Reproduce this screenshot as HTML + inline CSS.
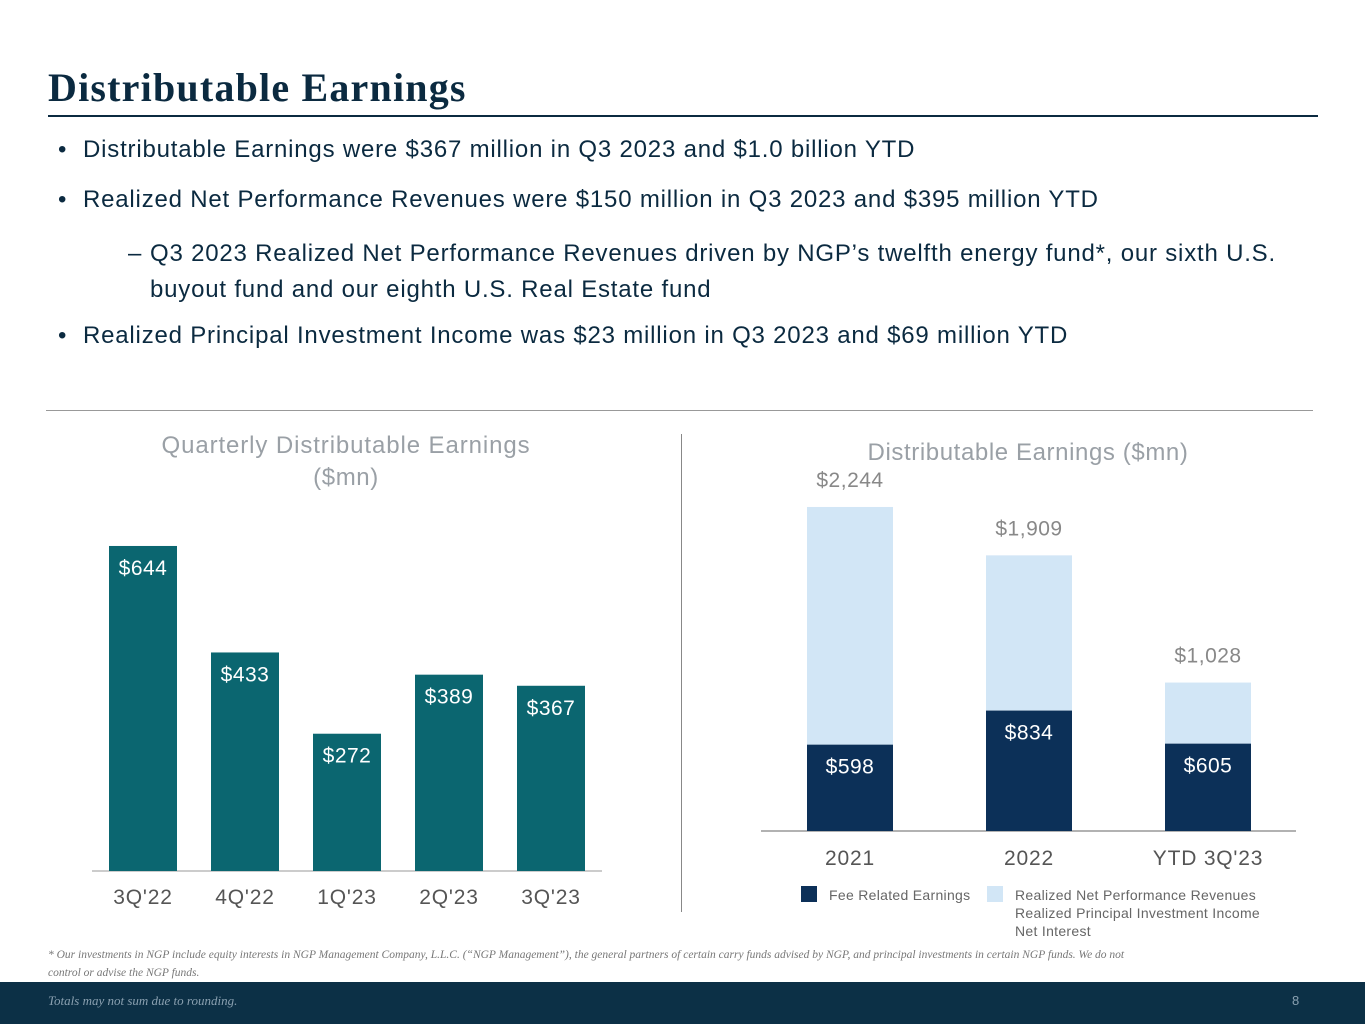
<!DOCTYPE html>
<html><head><meta charset="utf-8"><style>
body{margin:0;width:1365px;height:1024px;position:relative;background:#fff;font-family:"Liberation Sans",sans-serif;overflow:hidden}
.abs{position:absolute}
.title{left:48px;top:64px;font-family:"Liberation Serif",serif;font-weight:bold;font-size:40px;letter-spacing:1.2px;color:#0b2a40}
.bul{left:58px;font-size:24px;letter-spacing:0.8px;color:#0b2a40;white-space:nowrap}
.bul span{position:absolute;left:0}
.bul div{margin-left:25px}
</style></head><body>
<div class="abs title">Distributable Earnings</div>
<div class="abs" style="left:48px;top:115px;width:1270px;height:1.5px;background:#0b2a40"></div>
<div class="abs bul" style="top:136px"><span>•</span><div>Distributable Earnings were $367 million in Q3 2023 and $1.0 billion YTD</div></div>
<div class="abs bul" style="top:186px"><span>•</span><div>Realized Net Performance Revenues were $150 million in Q3 2023 and $395 million YTD</div></div>
<div class="abs bul" style="top:236px;left:128px;line-height:36px"><span>–</span><div style="margin-left:22px">Q3 2023 Realized Net Performance Revenues driven by NGP’s twelfth energy fund*, our sixth U.S.<br>buyout fund and our eighth U.S. Real Estate fund</div></div>
<div class="abs bul" style="top:322px"><span>•</span><div>Realized Principal Investment Income was $23 million in Q3 2023 and $69 million YTD</div></div>
<div class="abs" style="left:46px;top:410px;width:1267px;height:1px;background:#999"></div>
<div class="abs" style="left:681px;top:434px;width:1px;height:478px;background:#888"></div>

<svg class="abs" style="left:0;top:0" width="1365" height="1024" font-family="Liberation Sans, sans-serif">
<g id="left"></g><g id="right"></g>
</svg>

<div class="abs" style="top:946px;left:48px;width:1265px;font-family:'Liberation Serif',serif;font-style:italic;font-size:11.5px;color:#777;line-height:18px;white-space:nowrap">* Our investments in NGP include equity interests in NGP Management Company, L.L.C. (“NGP Management”), the general partners of certain carry funds advised by NGP, and principal investments in certain NGP funds. We do not<br>control or advise the NGP funds.</div>
<div class="abs" style="left:0;top:982px;width:1365px;height:42px;background:#0c3046">
<div class="abs" style="left:48px;top:11px;font-family:'Liberation Serif',serif;font-style:italic;font-size:13px;color:#8aa0b0">Totals may not sum due to rounding.</div>
<div class="abs" style="left:1292px;top:11px;font-size:13px;color:#8aa0b0">8</div>
</div>
<script>
const qCats=["3Q'22","4Q'22","1Q'23","2Q'23","3Q'23"];
const qVals=[644,433,272,389,367];
const aCats=["2021","2022","YTD 3Q'23"];
const aFre=[598,834,605];
const aTot=[2244,1909,1028];
const NS="http://www.w3.org/2000/svg";
function mk(p,t,a,txt){const e=document.createElementNS(NS,t);for(const k in a)e.setAttribute(k,a[k]);if(txt!==undefined)e.textContent=txt;p.appendChild(e);return e;}
const L=document.getElementById('left'),R=document.getElementById('right');
const ly=v=>871-v*0.5047, lx=i=>109+i*102;
let t=mk(L,'text',{x:346,y:453,'text-anchor':'middle','font-size':24,'letter-spacing':0.9,fill:'#9aa0a6'},"Quarterly Distributable Earnings");

t=mk(L,'text',{x:346,y:485,'text-anchor':'middle','font-size':24,'letter-spacing':0.6,fill:'#9aa0a6'},"($mn)");

let ln=mk(L,'line',{x1:92,x2:602,y1:871,y2:871,stroke:'#999','stroke-width':1});

qVals.forEach((v,i)=>{
 const r=mk(L,'rect',{x:lx(i),y:ly(v),width:68,height:871-ly(v),fill:'#0b6670'});
 
 const l=mk(L,'text',{x:lx(i)+34,y:ly(v)+29,'text-anchor':'middle','font-size':21,'letter-spacing':0.5,fill:'#fff'},'$'+v);
 
 const c=mk(L,'text',{x:lx(i)+34,y:904,'text-anchor':'middle','font-size':21,'letter-spacing':0.8,fill:'#555'},qCats[i]);
 
});
const ry=v=>831-v*0.1444, rx=i=>807+i*179;
t=mk(R,'text',{x:1028,y:460,'text-anchor':'middle','font-size':24,'letter-spacing':0.6,fill:'#9aa0a6'},"Distributable Earnings ($mn)");

ln=mk(R,'line',{x1:761,x2:1296,y1:831,y2:831,stroke:'#999','stroke-width':1.5});

aCats.forEach((c,i)=>{
 const r1=mk(R,'rect',{x:rx(i),y:ry(aTot[i]),width:86,height:ry(aFre[i])-ry(aTot[i]),fill:'#d2e6f6'});
 
 const r2=mk(R,'rect',{x:rx(i),y:ry(aFre[i]),width:86,height:831-ry(aFre[i]),fill:'#0c3058'});
 
 const l=mk(R,'text',{x:rx(i)+43,y:ry(aFre[i])+29,'text-anchor':'middle','font-size':21,'letter-spacing':0.5,fill:'#fff'},'$'+aFre[i]);
 
 const tt=mk(R,'text',{x:rx(i)+43,y:ry(aTot[i])-20,'text-anchor':'middle','font-size':21,'letter-spacing':0.5,fill:'#888'},'$'+aTot[i].toLocaleString('en-US'));
 
 const cl=mk(R,'text',{x:rx(i)+43,y:865,'text-anchor':'middle','font-size':21,'letter-spacing':0.8,fill:'#555'},c);
 
});
let s=mk(R,'rect',{x:801,y:886,width:16,height:16,fill:'#0c3058'});

t=mk(R,'text',{x:829,y:900,'font-size':14,'letter-spacing':0.3,fill:'#666'},"Fee Related Earnings");

s=mk(R,'rect',{x:987,y:886,width:16,height:16,fill:'#d2e6f6'});

["Realized Net Performance Revenues","Realized Principal Investment Income","Net Interest"].forEach((x,i)=>{
 const e=mk(R,'text',{x:1015,y:900+i*18,'font-size':14,'letter-spacing':0.3,fill:'#666'},x);
 
});
</script>
</body></html>
